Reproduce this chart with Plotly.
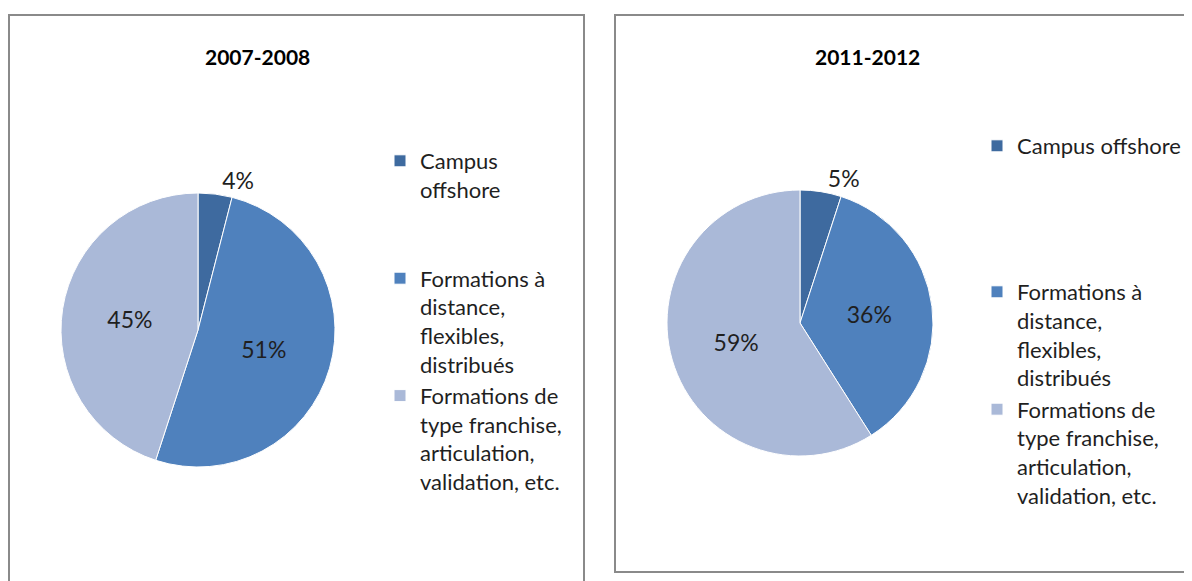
import plotly.graph_objects as go

# The page body has an 8px margin, so the figure is drawn 8px in from the window edge.
OFF = 8
W, H = 1192 - OFF, 581 - OFF

titles = ["2007-2008", "2011-2012"]
labels_left = ["Campus<br>offshore<br>\u00a0<br>\u00a0",
               "Formations à<br>distance,<br>flexibles,<br>distribués",
               "Formations de<br>type franchise,<br>articulation,<br>validation, etc."]
labels_right = ["Campus offshore<br>\u00a0<br>\u00a0<br>\u00a0<br>\u00a0",
                "Formations à<br>distance,<br>flexibles,<br>distribués\u00a0",
                "Formations de<br>type franchise,<br>articulation,<br>validation, etc.\u00a0"]
values_2007 = [4, 51, 45]
values_2011 = [5, 36, 59]
colors = ["#3E6A9F", "#4F81BD", "#AAB9D8"]
text_pos = ["outside", "inside", "inside"]

FONT = "Lato"
TXT = "#1f1f1f"


def px_x(v):
    return (v - OFF) / W


def px_y(v):
    return 1 - (v - OFF) / H


fig = go.Figure()

fig.add_trace(go.Pie(
    labels=labels_left, values=values_2007, sort=False, direction="clockwise", rotation=0,
    marker=dict(colors=colors, line=dict(color="white", width=1)),
    textinfo="percent", textposition=text_pos, insidetextorientation="horizontal",
    textfont=dict(family=FONT, size=23, color=TXT),
    domain=dict(x=[px_x(61), px_x(335)], y=[px_y(467), px_y(193)]),
    legend="legend", hoverinfo="skip",
))
fig.add_trace(go.Pie(
    labels=labels_right, values=values_2011, sort=False, direction="clockwise", rotation=0,
    marker=dict(colors=colors, line=dict(color="white", width=1)),
    textinfo="percent", textposition=text_pos, insidetextorientation="horizontal",
    textfont=dict(family=FONT, size=23, color=TXT),
    domain=dict(x=[px_x(667), px_x(933)], y=[px_y(456), px_y(190)]),
    legend="legend2", hoverinfo="skip",
))

# panel borders
fig.add_shape(type="rect", xref="paper", yref="paper",
              x0=px_x(9), x1=px_x(584), y0=-0.05, y1=px_y(15),
              line=dict(color="#8a8a8a", width=2), fillcolor="rgba(0,0,0,0)")
fig.add_shape(type="rect", xref="paper", yref="paper",
              x0=px_x(615), x1=1.02, y0=px_y(572), y1=px_y(15),
              line=dict(color="#8a8a8a", width=2), fillcolor="rgba(0,0,0,0)")

# titles
for t, cx in zip(titles, [257, 867]):
    fig.add_annotation(text="<b>" + t + "</b>", xref="paper", yref="paper",
                       x=px_x(cx), y=px_y(57), xanchor="center", yanchor="middle",
                       showarrow=False, font=dict(family=FONT, size=21, color="#000"))

legend_common = dict(font=dict(family=FONT, size=22, color=TXT), valign="top",
                     bgcolor="rgba(0,0,0,0)", xanchor="left", yanchor="top",
                     traceorder="normal")

fig.update_layout(
    width=W, height=H,
    margin=dict(l=0, r=0, t=0, b=0),
    paper_bgcolor="white", plot_bgcolor="white",
    showlegend=True,
    legend=dict(x=px_x(380), y=px_y(140), **legend_common),
    legend2=dict(x=px_x(977), y=px_y(125), **legend_common),
)

fig.write_html("out.html")
